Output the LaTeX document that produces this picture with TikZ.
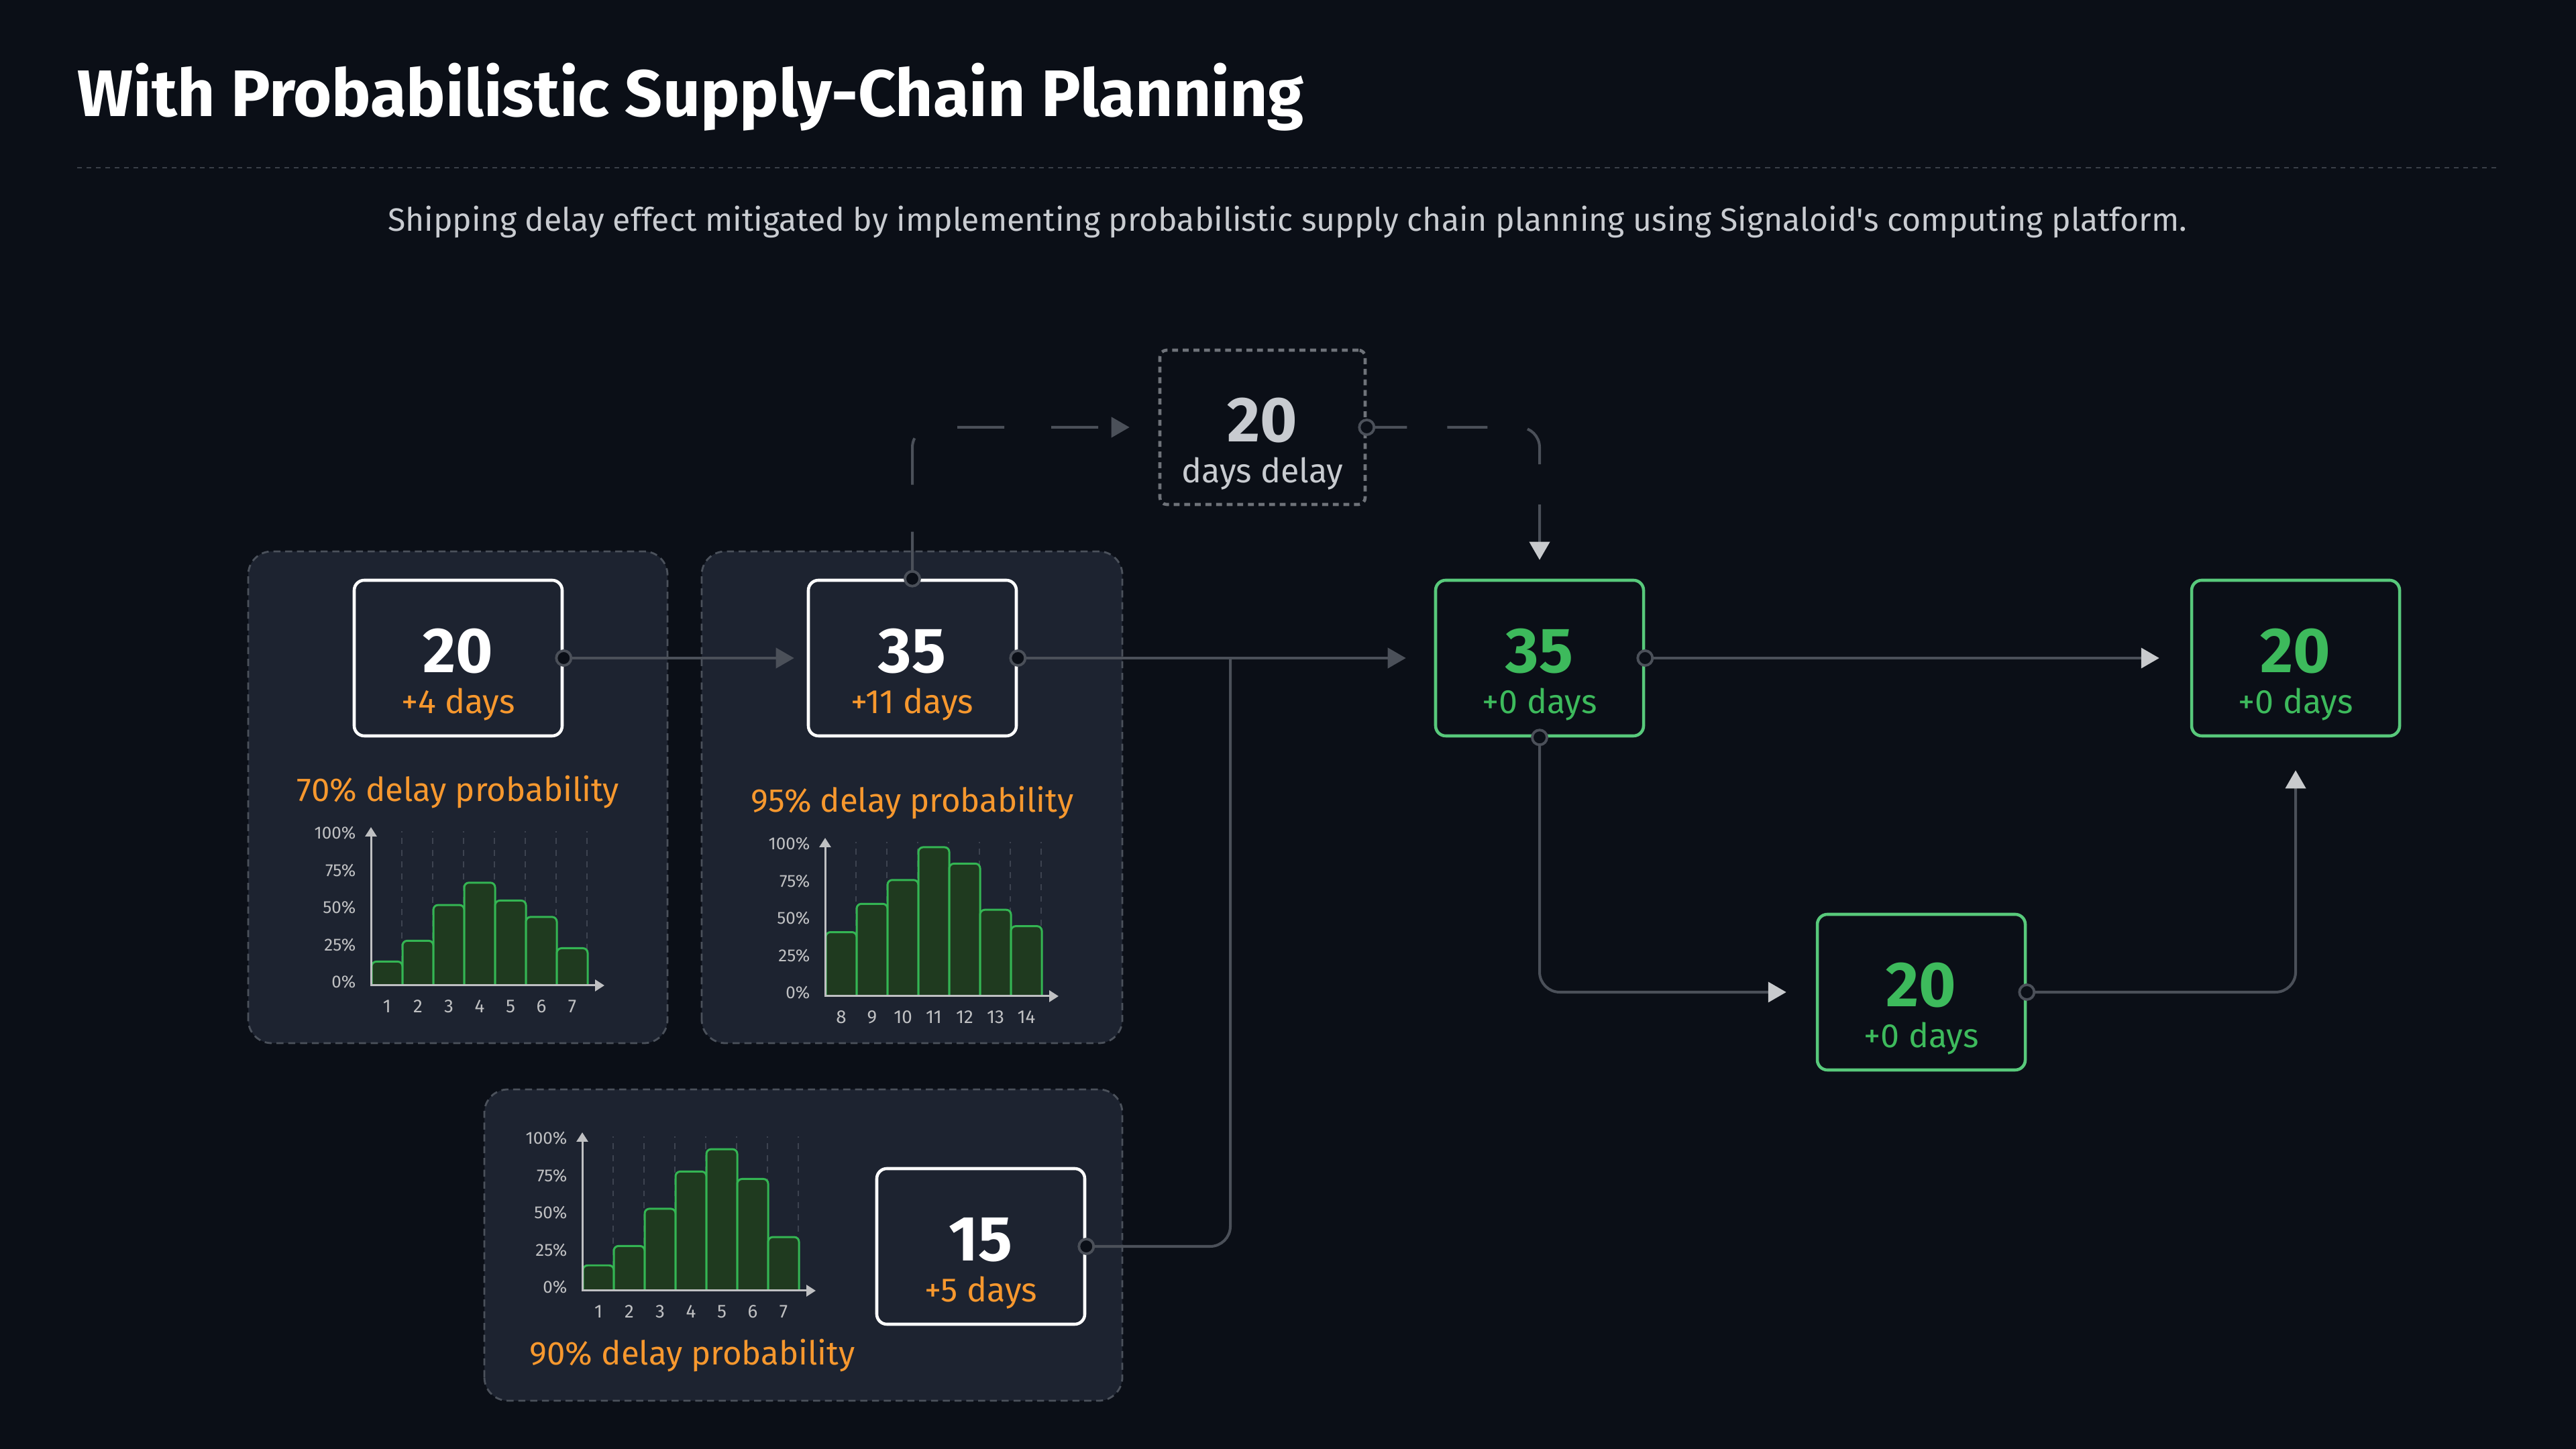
\documentclass[tikz,border=0pt]{standalone}
\usepackage{fontspec}
\setmainfont{Fira Sans}
\usetikzlibrary{positioning,calc,arrows.meta}

\definecolor{bgdark}{HTML}{0B0F17}
\definecolor{panelfill}{HTML}{1D2330}
\definecolor{panelline}{HTML}{4B515B}
\definecolor{wiregray}{HTML}{4B5059}
\definecolor{tipgray}{HTML}{C8CACD}
\definecolor{delaygray}{HTML}{C8CBD0}
\definecolor{subgray}{HTML}{C9CCD1}
\definecolor{axisgray}{HTML}{BFC0C2}
\definecolor{gridgray}{HTML}{3D4350}
\definecolor{orangetxt}{HTML}{F7982E}
\definecolor{greentxt}{HTML}{3DBA5C}
\definecolor{greenline}{HTML}{58C97B}
\definecolor{barfill}{HTML}{1F3A1F}
\definecolor{barline}{HTML}{34B553}
\definecolor{rulegray}{HTML}{3A3F48}

\tikzset{
  panel/.style={draw=panelline, fill=panelfill, line width=0.8pt, dash pattern=on 3pt off 2pt, rounded corners=0.35cm},
  numbox/.style={draw=white, fill=panelfill, line width=1.3pt, rounded corners=0.15cm, minimum width=3.1cm, minimum height=2.32cm, inner sep=0pt},
  greenbox/.style={numbox, draw=greenline, fill=bgdark},
  delaybox/.style={numbox, draw=wiregray!80!white, fill=none, dash pattern=on 2.5pt off 2pt, minimum width=3.06cm, minimum height=2.3cm, rounded corners=0.1cm},
  wire/.style={draw=wiregray, line width=1.15pt, rounded corners=0.3cm},
  darktip/.style={-{Triangle[length=0.27cm, width=0.3cm, color=wiregray]}},
  lighttip/.style={-{Triangle[length=0.27cm, width=0.3cm, color=tipgray]}},
  dot/.style={circle, draw=wiregray, fill=bgdark, line width=1.1pt, minimum size=0.22cm, inner sep=0pt},
  bignum/.style={anchor=base, inner sep=0pt, font=\fontsize{27}{30}\selectfont\bfseries},
  subnum/.style={anchor=base, inner sep=0pt, font=\fontsize{14.3}{16}\selectfont},
  probtitle/.style={anchor=base, inner sep=0pt, text=orangetxt, font=\fontsize{14}{16}\selectfont},
  ticklab/.style={anchor=east, text=axisgray, font=\fontsize{7.4}{9}\selectfont, inner sep=0pt},
  daylab/.style={anchor=base, text=axisgray, font=\fontsize{7.9}{9}\selectfont, inner sep=0pt},
  bar/.style={draw=barline, fill=barfill, line width=0.85pt, rounded corners=0.07cm},
  gridline/.style={draw=gridgray, line width=0.35pt, dash pattern=on 2.5pt off 2.5pt},
  axis/.style={draw=axisgray, line width=0.85pt},
}

% histogram: origin x, origin y, day labels, bar heights in %
\newcommand\histo[4]{%
  \begin{scope}[shift={(#1,#2)}]
    \foreach \i in {1,...,7} \draw[gridline] (\i*0.46,0) -- (\i*0.46,2.3);
    \foreach \h [count=\i from 0] in {#4}
      \path[bar] (\i*0.46+0.01,0) -- (\i*0.46+0.01,\h*0.0222) -- (\i*0.46+0.47,\h*0.0222) -- (\i*0.46+0.47,0);
    \draw[axis, arrows={Triangle[length=0.14cm,width=0.17cm]-Triangle[length=0.14cm,width=0.17cm]}] (0,2.36) -- (0,0) -- (3.48,0);
    \foreach \p in {0,25,50,75,100} \node[ticklab] at (-0.22,\p*0.0222+0.05) {\p\%};
    \foreach \d [count=\i from 0] in {#3} \node[daylab] at (\i*0.46+0.24,-0.41) {\d};
  \end{scope}}

% number and delay inside a box
\newcommand\cardtext[5]{%
  \node[bignum, text=#4] (#1-num) at ([yshift=-0.22cm]#1.center) {#2};
  \node[subnum, text=#5] (#1-sub) at ([yshift=-0.83cm]#1.center) {#3};}

\begin{document}
\begin{tikzpicture}
  \useasboundingbox (0,0) rectangle (38.4,21.6);
  \fill[bgdark] (0,0) rectangle (38.4,21.6);

  % Heading
  \node[anchor=base west, inner sep=0pt, text=white, font=\fontsize{27.9}{32}\selectfont\bfseries] (title) at (1.15,19.86) {With Probabilistic Supply-Chain Planning};
  \draw[rulegray, line width=0.6pt, dash pattern=on 2pt off 2pt] (1.15,19.10) -- (37.27,19.10);
  \node[anchor=base, inner sep=0pt, text=subgray, font=\fontsize{13.7}{16}\selectfont] (subtitle) at (19.19,18.15) {Shipping delay effect mitigated by implementing probabilistic supply chain planning using Signaloid\textquotesingle s computing platform.};

  % Panels
  \path[panel] (3.70,6.05) rectangle (9.95,13.38);
  \path[panel] (10.46,6.05) rectangle (16.73,13.38);
  \path[panel] (7.22,0.72) rectangle (16.73,5.36);

  % Boxes
  \node[numbox] (n20) at (6.83,11.79) {};
  \node[numbox] (n35) at (13.60,11.79) {};
  \node[numbox] (n15) at (14.62,3.02) {};
  \node[delaybox] (delay) at (18.82,15.23) {};
  \node[greenbox] (g35) at (22.95,11.79) {};
  \node[greenbox] (g20) at (34.22,11.79) {};
  \node[greenbox] (g20b) at (28.64,6.81) {};

  \cardtext{n20}{20}{+4 days}{white}{orangetxt}
  \cardtext{n35}{35}{+11 days}{white}{orangetxt}
  \cardtext{n15}{15}{+5 days}{white}{orangetxt}
  \cardtext{delay}{20}{days delay}{delaygray}{delaygray}
  \cardtext{g35}{35}{+0 days}{greentxt}{greentxt}
  \cardtext{g20}{20}{+0 days}{greentxt}{greentxt}
  \cardtext{g20b}{20}{+0 days}{greentxt}{greentxt}

  % Probabilities
  \node[probtitle] (p70) at (6.83,9.65) {70\% delay probability};
  \node[probtitle] (p95) at (13.60,9.49) {95\% delay probability};
  \node[probtitle] (p90) at (10.32,1.25) {90\% delay probability};

  \histo{5.53}{6.91}{1,...,7}{16,30,54,69,57,46,25}
  \histo{12.30}{6.75}{8,...,14}{43,62,78,100,89,58,47}
  \histo{8.68}{2.36}{1,...,7}{17,30,55,80,95,75,36}

  % Connectors
  \coordinate (joint) at (18.34,11.79);
  \draw[wire, darktip, shorten >=0.19cm] (n20.east) -- (n35.west);
  \draw[wire, darktip, shorten >=0.42cm] (n35.east) -- (g35.west);
  \draw[wire] (n15.east) -| (joint);
  \draw[wire, darktip, dash pattern=on 0.7cm off 0.7cm, shorten >=0.43cm] (n35.north) |- (delay.west);
  \draw[wire, lighttip, dash pattern=on 0.6cm off 0.6cm, shorten >=0.28cm] (delay.east) -| (g35.north);
  \draw[wire, lighttip, shorten >=0.46cm] (g35.east) -- (g20.west);
  \draw[wire, lighttip, shorten >=0.44cm] (g35.south) |- (g20b.west);
  \draw[wire, lighttip, shorten >=0.49cm] (g20b.east) -| (g20.south);

  \foreach \a [count=\k] in {n20.east, n35.east, n35.north, n15.east, delay.east, g35.east, g35.south, g20b.east}
    \node[dot] (dot\k) at (\a) {};
\end{tikzpicture}
\end{document}
